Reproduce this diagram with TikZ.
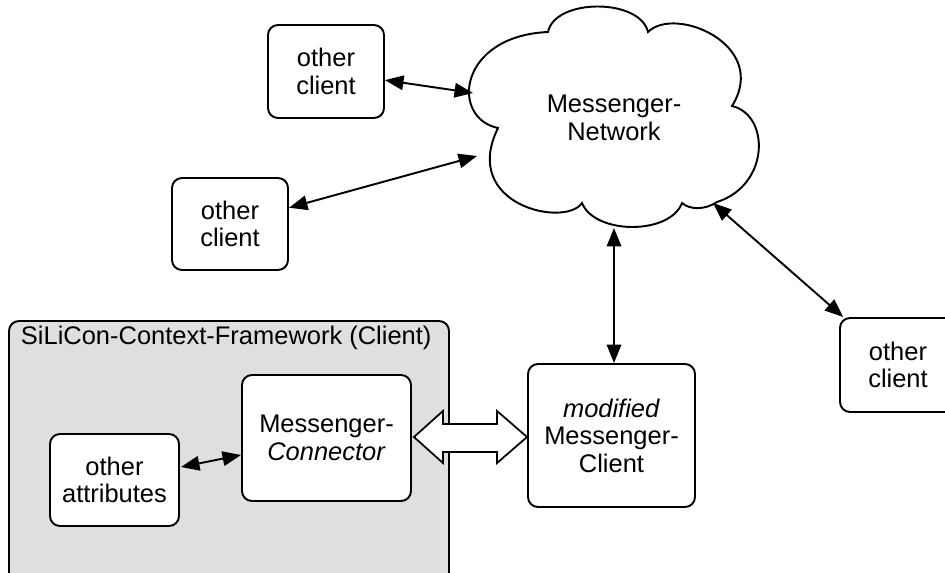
\documentclass[tikz,border=0pt]{standalone}
\usepackage{fontspec}
\setmainfont{Liberation Sans}
\usetikzlibrary{arrows.meta,calc}
\begin{document}
\begin{tikzpicture}[x=0.02cm,y=-0.02cm,
  line width=1.1pt,
  txt/.style={font=\fontsize{14.5}{15.6}\selectfont, align=center},
  box/.style={txt, draw, rounded corners=0.2cm, fill=white, inner sep=0pt},
  conn/.style={{Triangle[length=0.37cm,width=0.29cm]}-{Triangle[length=0.37cm,width=0.29cm]}}
]
\useasboundingbox (0,0) rectangle (945,573);
\clip (0,0) rectangle (945,573);

% framework container
\node[draw, rounded corners=0.2cm, fill=gray!25, minimum width=440*0.02cm, minimum height=262*0.02cm, inner sep=0pt] (fw) at (229,452) {};
\node[txt, anchor=base west, inner sep=0pt] (fwtitle) at (20,345) {SiLiCon-Context-Framework (Client)};

% boxes
\node[box, minimum width=116*0.02cm, minimum height=93*0.02cm] (oc1) at (326,71.5) {other\\client};
\node[box, minimum width=116*0.02cm, minimum height=92*0.02cm] (oc2) at (230,224) {other\\client};
\node[box, minimum width=116*0.02cm, minimum height=94*0.02cm] (oc3) at (898,365) {other\\client};
\node[box, minimum width=167*0.02cm, minimum height=143*0.02cm] (mod) at (611.5,435.5) {\textit{modified}\\Messenger-\\Client};
\node[box, minimum width=169*0.02cm, minimum height=126*0.02cm] (mcon) at (326.5,438) {Messenger-\\\textit{Connector}};
\node[box, minimum width=129*0.02cm, minimum height=92*0.02cm] (attr) at (114.5,480) {other\\attributes};

% cloud
\draw[fill=white] (498,128)
  .. controls (450,118) and (458,36) .. (548,32)
  .. controls (555,-2) and (640,-2) .. (648,32)
  .. controls (675,5) and (770,45) .. (732,106)
  .. controls (770,115) and (770,185) .. (717,202)
  .. controls (705,210) and (690,210) .. (682,203)
  .. controls (670,235) and (595,235) .. (582,203)
  .. controls (565,228) and (460,205) .. (498,128) -- cycle;
\node[txt] (cloud) at (614,118) {Messenger-\\Network};
\coordinate (cl1) at (473,93);
\coordinate (cl2) at (477,156);
\coordinate (cl3) at (713,203);
\coordinate (cl4) at (614,228);

% connectors
\draw[conn] (oc1) -- (cl1);
\draw[conn] (oc2) -- (cl2);
\draw[conn] (cl3) -- (oc3);
\draw[conn] (cl4) -- (cl4 |- mod.north);
\draw[conn] ($(attr.east)+(1,-13)$) -- ($(mcon.west)+(0,17)$);

% fat double arrow
\coordinate (fl) at ($(mcon.east)+(2,-1)$);
\coordinate (fr) at ($(mod.west)+(0,1.5)$);
\draw[fill=white, line width=1pt, line join=miter] (fl) -- ($(fl)+(29,-26)$) -- ($(fl)+(29,-13)$)
  -- ($(fr)+(-30,-13)$) -- ($(fr)+(-30,-26)$) -- (fr) -- ($(fr)+(-30,26)$) -- ($(fr)+(-30,15)$)
  -- ($(fl)+(29,15)$) -- ($(fl)+(29,26)$) -- cycle;
\end{tikzpicture}
\end{document}
